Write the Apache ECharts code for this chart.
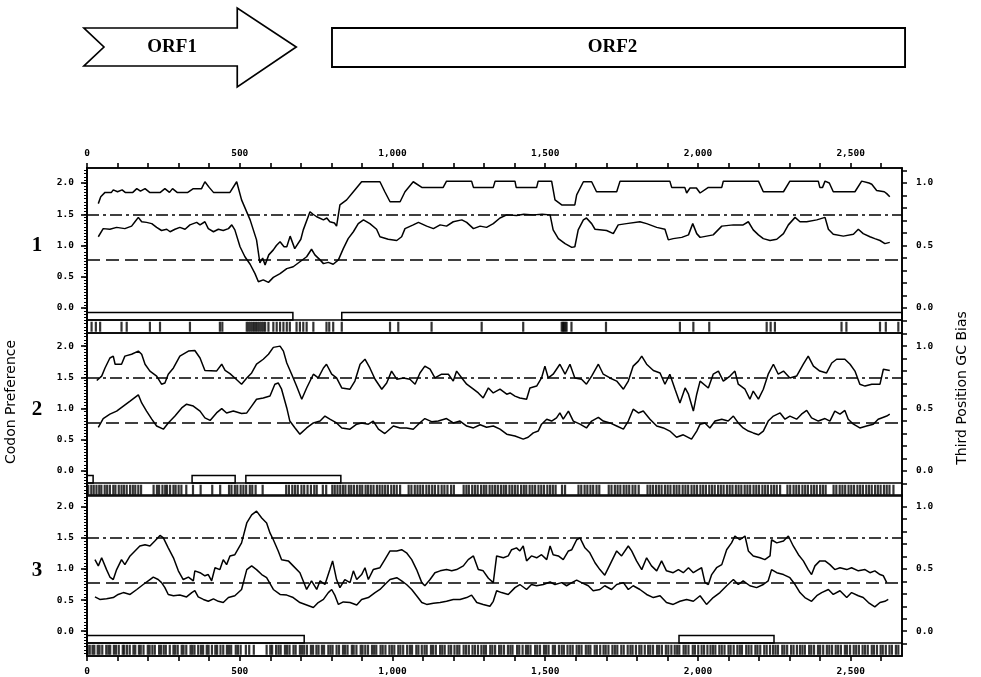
<!DOCTYPE html>
<html>
<head>
<meta charset="utf-8">
<script src="https://cdn.jsdelivr.net/npm/echarts@6/dist/echarts.min.js"></script>
<style>
  html, body { margin: 0; padding: 0; background: #fff; }
  #codonChart { width: 981px; height: 677px; }
</style>
</head>
<body>
<div id="codonChart"></div>
<script>
// sequence position axis (nt)
const xTicks = [0,100,200,300,400,500,600,700,800,900,1000,1100,1200,1300,1400,1500,1600,1700,1800,1900,2000,2100,2200,2300,2400,2500,2600];
const xLabels = [0,500,1000,1500,2000,2500];
const leftLabels = [0,0.5,1,1.5,2];
const rightLabels = [0,0.5,1];
const rightTicks = [-0.1,0,0.1,0.2,0.3,0.4,0.5,0.6,0.7,0.8,0.9,1.0,1.1];
const dashLevel = 0.78;
const dashDotLevel = 1.5;

// ORF map at the top
const orfArrow = [-10, 685];
const orfBox = [802, 2678];

// open reading frames per frame
const orfs1 = [[0, 674], [834, 2668]];
const orfs2 = [[0, 20], [344, 485], [520, 831]];
const orfs3 = [[0, 711], [1938, 2249]];

// frame 1 traces (codon preference units)
const upper1 = [[37,1.67],[45,1.78],[59,1.85],[80,1.85],[86,1.89],[100,1.86],[115,1.89],[125,1.85],[150,1.85],[163,1.91],[175,1.87],[190,1.91],[205,1.85],[240,1.85],[255,1.91],[270,1.85],[280,1.91],[295,1.85],[330,1.85],[348,1.91],[375,1.91],[386,2.02],[400,1.93],[414,1.85],[468,1.85],[490,2.02],[506,1.73],[534,1.41],[555,1.09],[566,0.72],[575,0.80],[583,0.69],[595,0.85],[610,0.93],[620,1.00],[632,1.06],[645,0.98],[654,0.98],[665,1.15],[670,1.18],[680,0.95],[686,0.93],[700,1.10],[708,1.25],[730,1.54],[740,1.50],[752,1.46],[774,1.41],[785,1.44],[795,1.38],[810,1.36],[817,1.31],[828,1.65],[850,1.73],[872,1.86],[899,2.02],[959,2.02],[975,1.86],[992,1.70],[1025,1.70],[1041,1.86],[1068,2.02],[1096,1.93],[1166,1.93],[1177,2.03],[1259,2.03],[1265,1.93],[1330,1.93],[1336,2.03],[1401,2.03],[1405,1.93],[1472,1.93],[1477,2.03],[1521,2.03],[1532,1.73],[1554,1.65],[1597,1.65],[1603,1.81],[1625,2.02],[1652,2.02],[1668,1.86],[1734,1.86],[1745,2.03],[1908,2.03],[1914,1.93],[1957,1.93],[1963,1.84],[1974,1.92],[1995,1.92],[2007,1.84],[2034,1.93],[2078,1.93],[2083,2.03],[2198,2.03],[2214,1.86],[2280,1.86],[2301,2.03],[2394,2.03],[2399,1.93],[2408,1.93],[2416,2.03],[2430,2.00],[2443,1.86],[2514,1.86],[2536,2.03],[2560,2.00],[2569,1.98],[2585,1.88],[2610,1.86],[2618,1.83],[2628,1.78]];
const lower1 = [[37,1.14],[53,1.27],[75,1.26],[97,1.29],[124,1.27],[146,1.31],[157,1.38],[168,1.45],[179,1.38],[195,1.37],[212,1.35],[228,1.29],[244,1.24],[261,1.26],[272,1.22],[288,1.26],[304,1.29],[321,1.26],[337,1.33],[359,1.37],[370,1.33],[386,1.38],[397,1.27],[414,1.22],[430,1.26],[446,1.24],[463,1.27],[474,1.33],[484,1.25],[501,0.98],[517,0.82],[534,0.70],[550,0.55],[561,0.42],[577,0.45],[594,0.41],[610,0.49],[632,0.55],[654,0.63],[675,0.66],[697,0.74],[719,0.82],[735,0.94],[746,0.85],[763,0.77],[774,0.71],[790,0.73],[806,0.70],[823,0.77],[839,0.95],[855,1.11],[872,1.22],[888,1.35],[905,1.41],[926,1.35],[948,1.26],[959,1.14],[986,1.10],[1014,1.08],[1030,1.14],[1041,1.27],[1068,1.33],[1085,1.37],[1112,1.31],[1134,1.27],[1156,1.33],[1177,1.31],[1199,1.38],[1227,1.41],[1243,1.37],[1265,1.27],[1287,1.31],[1308,1.29],[1330,1.35],[1352,1.44],[1374,1.49],[1406,1.48],[1430,1.50],[1461,1.49],[1490,1.50],[1516,1.49],[1526,1.25],[1543,1.11],[1565,1.03],[1587,0.97],[1597,0.98],[1608,1.25],[1625,1.41],[1635,1.44],[1652,1.35],[1663,1.26],[1701,1.24],[1723,1.19],[1739,1.33],[1766,1.35],[1810,1.38],[1832,1.35],[1865,1.29],[1892,1.26],[1903,1.09],[1919,1.11],[1947,1.13],[1969,1.17],[1983,1.35],[1996,1.19],[2007,1.13],[2050,1.17],[2078,1.31],[2116,1.33],[2148,1.33],[2165,1.38],[2181,1.25],[2198,1.17],[2214,1.11],[2236,1.08],[2258,1.10],[2280,1.19],[2296,1.33],[2318,1.45],[2334,1.38],[2356,1.38],[2389,1.41],[2416,1.45],[2427,1.26],[2443,1.18],[2476,1.15],[2509,1.18],[2525,1.26],[2541,1.19],[2563,1.14],[2579,1.11],[2596,1.08],[2612,1.03],[2628,1.05]];

// frame 2 traces
const upper2 = [[32,1.45],[48,1.52],[59,1.65],[75,1.81],[86,1.84],[92,1.71],[113,1.71],[124,1.84],[146,1.87],[168,1.92],[179,1.87],[190,1.71],[206,1.60],[228,1.52],[244,1.39],[255,1.41],[266,1.55],[283,1.65],[304,1.84],[332,1.92],[353,1.93],[370,1.81],[386,1.61],[424,1.60],[441,1.71],[452,1.61],[468,1.56],[484,1.49],[506,1.39],[523,1.49],[539,1.57],[555,1.71],[577,1.79],[594,1.87],[610,1.98],[632,2.00],[643,1.92],[654,1.73],[670,1.55],[686,1.36],[703,1.15],[719,1.33],[741,1.55],[757,1.49],[774,1.65],[784,1.71],[801,1.55],[817,1.49],[834,1.33],[861,1.31],[877,1.44],[894,1.71],[910,1.79],[926,1.65],[943,1.47],[965,1.31],[981,1.41],[997,1.60],[1014,1.47],[1036,1.49],[1057,1.47],[1074,1.39],[1090,1.57],[1106,1.68],[1123,1.63],[1139,1.49],[1161,1.55],[1183,1.55],[1199,1.44],[1210,1.60],[1227,1.49],[1243,1.39],[1265,1.31],[1281,1.25],[1297,1.17],[1314,1.33],[1330,1.25],[1352,1.31],[1374,1.23],[1385,1.25],[1401,1.20],[1417,1.17],[1439,1.15],[1450,1.33],[1472,1.36],[1488,1.49],[1499,1.68],[1510,1.49],[1526,1.55],[1548,1.71],[1565,1.55],[1581,1.71],[1597,1.49],[1619,1.47],[1635,1.39],[1652,1.52],[1674,1.71],[1690,1.55],[1712,1.49],[1734,1.44],[1756,1.31],[1772,1.44],[1788,1.68],[1805,1.76],[1816,1.84],[1832,1.71],[1854,1.61],[1876,1.57],[1892,1.39],[1908,1.55],[1925,1.31],[1941,1.09],[1958,1.33],[1969,1.23],[1985,0.96],[1996,1.23],[2007,1.44],[2034,1.33],[2050,1.55],[2067,1.60],[2083,1.44],[2105,1.52],[2121,1.60],[2132,1.39],[2154,1.31],[2170,1.15],[2181,1.28],[2198,1.15],[2214,1.31],[2230,1.55],[2247,1.71],[2263,1.55],[2280,1.60],[2301,1.49],[2323,1.52],[2345,1.71],[2361,1.84],[2378,1.68],[2399,1.60],[2421,1.57],[2438,1.73],[2454,1.79],[2481,1.79],[2498,1.71],[2514,1.60],[2530,1.39],[2547,1.36],[2569,1.39],[2596,1.39],[2607,1.63],[2628,1.61]];
const lower2 = [[37,0.70],[53,0.84],[75,0.91],[97,0.96],[119,1.04],[141,1.12],[168,1.22],[179,1.09],[195,0.96],[212,0.83],[228,0.72],[250,0.67],[266,0.77],[288,0.88],[310,1.01],[326,1.07],[348,1.04],[370,0.96],[386,0.85],[403,0.81],[424,0.93],[441,1.00],[457,0.93],[479,0.96],[506,0.92],[523,0.93],[539,1.04],[555,1.15],[577,1.17],[599,1.20],[615,1.39],[626,1.41],[637,1.31],[654,1.01],[664,0.80],[681,0.69],[697,0.59],[719,0.69],[741,0.77],[763,0.80],[779,0.88],[795,0.83],[817,0.77],[834,0.69],[861,0.67],[883,0.75],[899,0.77],[921,0.75],[937,0.80],[954,0.67],[975,0.60],[1003,0.72],[1025,0.69],[1046,0.69],[1068,0.67],[1085,0.75],[1106,0.84],[1128,0.79],[1150,0.80],[1177,0.84],[1199,0.77],[1221,0.80],[1243,0.72],[1265,0.69],[1287,0.74],[1308,0.70],[1330,0.72],[1352,0.67],[1374,0.59],[1401,0.56],[1428,0.51],[1444,0.54],[1461,0.61],[1477,0.64],[1488,0.75],[1505,0.83],[1521,0.80],[1537,0.85],[1548,0.93],[1559,0.83],[1576,0.96],[1592,0.80],[1614,0.75],[1635,0.69],[1652,0.80],[1674,0.86],[1690,0.80],[1712,0.77],[1734,0.72],[1756,0.67],[1772,0.80],[1788,0.99],[1805,0.93],[1821,0.96],[1843,0.83],[1865,0.72],[1887,0.69],[1908,0.64],[1930,0.54],[1952,0.58],[1979,0.51],[1996,0.64],[2007,0.75],[2023,0.77],[2039,0.69],[2056,0.80],[2078,0.83],[2099,0.80],[2116,0.88],[2132,0.77],[2148,0.69],[2165,0.64],[2181,0.61],[2198,0.58],[2214,0.64],[2230,0.80],[2247,0.88],[2269,0.93],[2285,0.83],[2301,0.88],[2323,0.83],[2339,0.91],[2356,0.97],[2372,0.85],[2394,0.80],[2416,0.84],[2432,0.80],[2448,0.96],[2465,0.91],[2481,0.97],[2492,0.83],[2509,0.75],[2530,0.69],[2552,0.72],[2574,0.75],[2590,0.83],[2601,0.85],[2618,0.88],[2628,0.91]];

// frame 3 traces
const upper3 = [[26,1.15],[37,1.05],[48,1.18],[64,0.99],[75,0.87],[86,0.83],[97,0.99],[113,1.15],[124,1.07],[141,1.21],[157,1.29],[173,1.37],[190,1.39],[206,1.37],[222,1.45],[239,1.54],[250,1.50],[266,1.34],[283,1.18],[299,0.97],[315,0.83],[332,0.87],[348,0.81],[353,0.97],[370,0.94],[386,0.89],[397,0.91],[408,0.81],[419,1.02],[435,0.99],[446,1.15],[457,1.07],[468,1.21],[484,1.23],[506,1.42],[523,1.74],[539,1.87],[555,1.93],[572,1.82],[588,1.74],[599,1.58],[610,1.47],[626,1.29],[637,1.15],[659,1.13],[675,1.05],[697,0.94],[719,0.67],[735,0.81],[752,0.67],[763,0.81],[779,0.75],[795,0.99],[804,1.13],[817,0.83],[828,0.70],[844,0.83],[861,0.78],[872,0.97],[883,0.83],[899,0.91],[910,1.02],[921,0.83],[937,0.99],[959,1.02],[975,1.15],[992,1.29],[1014,1.29],[1030,1.31],[1046,1.26],[1063,1.15],[1079,0.99],[1096,0.78],[1106,0.73],[1123,0.83],[1139,0.94],[1156,0.97],[1177,0.99],[1194,0.97],[1210,0.99],[1232,1.05],[1248,1.15],[1265,1.21],[1281,0.99],[1297,0.97],[1314,0.85],[1330,0.78],[1341,1.21],[1363,1.18],[1379,1.21],[1390,1.31],[1406,1.34],[1417,1.29],[1428,1.37],[1439,1.13],[1455,1.21],[1472,1.18],[1488,1.23],[1505,1.15],[1516,1.37],[1526,1.23],[1543,1.21],[1559,1.15],[1576,1.29],[1587,1.31],[1603,1.47],[1614,1.50],[1630,1.34],[1646,1.26],[1663,1.10],[1679,0.99],[1695,0.90],[1712,1.07],[1734,1.29],[1750,1.21],[1772,1.37],[1783,1.29],[1799,1.13],[1816,0.99],[1832,1.18],[1848,1.05],[1865,0.97],[1881,1.13],[1897,0.97],[1919,0.94],[1936,0.99],[1952,0.94],[1969,1.02],[1985,0.94],[2001,0.99],[2012,1.02],[2023,0.78],[2034,0.75],[2045,0.91],[2061,1.02],[2078,1.07],[2094,1.31],[2110,1.42],[2121,1.53],[2137,1.47],[2154,1.53],[2165,1.29],[2181,1.21],[2203,1.18],[2219,1.15],[2236,1.21],[2241,1.47],[2258,1.42],[2280,1.45],[2296,1.53],[2312,1.37],[2329,1.23],[2345,1.13],[2361,0.99],[2372,0.91],[2383,1.05],[2399,1.13],[2416,1.13],[2432,1.07],[2448,0.99],[2465,1.02],[2487,0.99],[2503,1.02],[2525,0.97],[2547,0.99],[2563,0.94],[2579,0.97],[2596,0.91],[2607,0.89],[2618,0.78]];
const lower3 = [[26,0.55],[42,0.51],[64,0.52],[86,0.54],[102,0.59],[119,0.62],[141,0.59],[163,0.67],[184,0.75],[206,0.83],[217,0.87],[233,0.83],[244,0.78],[255,0.70],[266,0.59],[283,0.57],[304,0.58],[326,0.55],[343,0.62],[353,0.65],[364,0.55],[381,0.51],[397,0.48],[414,0.52],[430,0.48],[446,0.46],[463,0.54],[484,0.57],[506,0.67],[523,0.99],[539,1.05],[555,0.99],[572,0.91],[588,0.86],[610,0.67],[632,0.59],[654,0.58],[675,0.54],[697,0.46],[719,0.42],[741,0.38],[757,0.46],[774,0.51],[790,0.62],[801,0.67],[812,0.57],[823,0.43],[839,0.47],[861,0.46],[883,0.42],[899,0.51],[921,0.54],[943,0.62],[959,0.67],[975,0.75],[992,0.83],[1014,0.86],[1030,0.81],[1046,0.75],[1063,0.67],[1079,0.57],[1096,0.46],[1112,0.43],[1134,0.45],[1156,0.46],[1177,0.48],[1199,0.51],[1221,0.51],[1243,0.54],[1259,0.58],[1276,0.46],[1297,0.43],[1319,0.40],[1330,0.48],[1341,0.65],[1357,0.62],[1379,0.59],[1401,0.70],[1417,0.75],[1439,0.67],[1455,0.75],[1472,0.73],[1494,0.75],[1516,0.79],[1532,0.75],[1554,0.78],[1570,0.73],[1587,0.78],[1603,0.82],[1619,0.78],[1641,0.73],[1657,0.65],[1679,0.67],[1695,0.73],[1717,0.67],[1734,0.75],[1756,0.78],[1772,0.67],[1788,0.73],[1810,0.67],[1832,0.59],[1854,0.54],[1876,0.57],[1897,0.46],[1919,0.43],[1941,0.48],[1963,0.51],[1985,0.48],[2007,0.57],[2028,0.43],[2050,0.54],[2072,0.62],[2094,0.73],[2116,0.83],[2132,0.75],[2148,0.81],[2170,0.73],[2192,0.70],[2214,0.75],[2230,0.81],[2241,0.99],[2258,0.94],[2280,0.91],[2301,0.86],[2318,0.75],[2334,0.62],[2350,0.54],[2372,0.48],[2389,0.57],[2405,0.62],[2427,0.67],[2443,0.59],[2465,0.65],[2487,0.54],[2503,0.62],[2525,0.57],[2541,0.54],[2558,0.46],[2579,0.39],[2596,0.46],[2612,0.48],[2623,0.51]];

// rare codon positions per frame
const rare1 = [15,29,43,113,130,206,239,337,435,443,523,529,535,541,547,553,559,565,571,577,583,594,610,621,632,643,654,664,686,697,708,719,741,784,793,806,834,992,1019,1128,1292,1428,1554,1558,1562,1566,1570,1586,1699,1941,1985,2037,2225,2238,2252,2470,2486,2596,2615,2656];
const rare2 = [4,14,22,31,40,47,58,66,75,86,93,104,113,121,130,141,150,158,168,177,218,229,236,247,256,262,272,283,290,300,309,325,347,372,410,436,465,473,484,492,503,512,521,533,541,552,575,652,661,672,681,690,702,711,722,733,744,752,772,783,803,811,820,829,838,846,857,865,874,884,893,901,912,920,929,938,949,958,967,976,985,996,1005,1014,1025,1053,1062,1073,1082,1091,1100,1111,1120,1130,1139,1150,1161,1170,1180,1192,1201,1233,1242,1250,1261,1270,1279,1290,1299,1307,1318,1327,1336,1345,1355,1364,1372,1383,1392,1401,1410,1421,1430,1438,1449,1458,1467,1478,1487,1496,1507,1516,1525,1534,1555,1565,1609,1618,1629,1638,1648,1657,1668,1677,1708,1717,1728,1737,1746,1757,1766,1775,1786,1795,1806,1835,1844,1853,1863,1872,1881,1892,1901,1910,1921,1930,1939,1950,1959,1968,1979,1988,1997,2008,2017,2026,2037,2046,2055,2066,2075,2084,2095,2104,2113,2124,2133,2142,2153,2162,2171,2182,2191,2200,2211,2220,2229,2240,2249,2258,2269,2293,2302,2313,2322,2331,2342,2351,2360,2371,2380,2389,2400,2409,2418,2444,2453,2464,2473,2482,2493,2502,2511,2522,2531,2540,2551,2560,2569,2580,2589,2598,2609,2618,2627,2640];
const rare3 = [2,9,18,24,35,41,50,63,70,76,88,95,104,117,122,131,140,152,158,170,176,185,199,205,214,222,236,242,251,258,271,283,289,297,310,316,325,339,345,352,364,373,380,392,398,409,420,426,437,446,458,465,472,487,494,503,520,531,546,588,600,606,619,627,634,648,655,663,676,683,697,704,711,720,733,740,751,758,769,776,790,797,804,817,825,838,845,853,867,873,882,896,902,911,920,933,940,947,961,968,977,990,998,1006,1019,1026,1035,1048,1057,1064,1078,1085,1096,1105,1112,1126,1133,1142,1156,1163,1171,1184,1192,1203,1212,1219,1233,1241,1250,1262,1270,1280,1291,1299,1306,1320,1327,1336,1349,1356,1365,1378,1386,1393,1408,1415,1426,1437,1444,1452,1467,1474,1483,1496,1503,1511,1525,1532,1545,1554,1561,1573,1582,1590,1603,1611,1619,1633,1641,1648,1662,1669,1680,1691,1698,1707,1720,1728,1736,1749,1757,1770,1779,1786,1797,1808,1815,1826,1837,1844,1853,1866,1873,1882,1895,1903,1913,1924,1932,1939,1953,1960,1969,1983,1990,2001,2012,2020,2031,2041,2049,2057,2070,2078,2087,2100,2107,2117,2129,2137,2144,2158,2166,2175,2188,2195,2204,2217,2225,2236,2246,2254,2262,2276,2283,2292,2305,2313,2324,2334,2342,2350,2364,2371,2380,2393,2400,2410,2422,2430,2439,2451,2459,2468,2481,2488,2498,2510,2518,2527,2539,2547,2556,2569,2576,2586,2598,2605,2615,2627,2635,2648,2656];

const panels = [
  { upper: upper1, lower: lower1, orfs: orfs1, rare: rare1, top: 168, height: 165, max: 2.24 },
  { upper: upper2, lower: lower2, orfs: orfs2, rare: rare2, top: 333, height: 163, max: 2.21 },
  { upper: upper3, lower: lower3, orfs: orfs3, rare: rare3, top: 495, height: 162, max: 2.19 }
];
const yMin = -0.40;
const xMax = 2668;

// short ticks along the left axis
const minorTicks = [];
for (let v = -35; v <= 220; v += 5) minorTicks.push(v / 100);

const ink = '#000';
const tickFont = { fontFamily: 'DejaVu Sans Mono', fontWeight: 'bold', fontSize: 9.5, color: ink };
const fmtNt = v => v.toLocaleString('en-US');

let grids = [], xAxes = [], yAxes = [], series = [];

panels.forEach((p, i) => {
  grids.push({ left: 87, right: 79, top: p.top, height: p.height, show: true, borderColor: ink, borderWidth: 1.6, backgroundColor: 'transparent' });

  xAxes.push({
    type: 'value', gridIndex: i, min: 0, max: xMax,
    show: i !== 1,
    position: i === 0 ? 'top' : 'bottom',
    axisLine: { onZero: false, lineStyle: { color: ink, width: 1.6 } },
    axisTick: { customValues: xTicks, length: 5, lineStyle: { color: ink, width: 1.6 } },
    axisLabel: Object.assign({ customValues: xLabels, formatter: fmtNt, margin: i === 0 ? 9 : 11 }, tickFont),
    splitLine: { show: false }
  });

  // left: codon preference
  yAxes.push({
    type: 'value', gridIndex: i, position: 'left', min: yMin, max: p.max,
    axisLine: { show: true, onZero: false, lineStyle: { color: ink, width: 2 } },
    axisTick: { customValues: leftLabels, length: 6, lineStyle: { color: ink, width: 1.6 } },
    axisLabel: Object.assign({ customValues: leftLabels, formatter: v => v.toFixed(1), margin: 13 }, tickFont),
    splitLine: { show: false }
  });
  yAxes.push({
    type: 'value', gridIndex: i, position: 'left', offset: 0, min: yMin, max: p.max,
    axisLine: { show: false, onZero: false },
    axisTick: { customValues: minorTicks, length: 3, lineStyle: { color: ink, width: 1 } },
    axisLabel: { show: false },
    splitLine: { show: false }
  });
  // right: third position GC bias
  yAxes.push({
    type: 'value', gridIndex: i, position: 'right', min: yMin / 2, max: p.max / 2,
    axisLine: { show: true, onZero: false, lineStyle: { color: ink, width: 1.6 } },
    axisTick: { customValues: rightTicks, length: 5, lineStyle: { color: ink, width: 1.5 } },
    axisLabel: Object.assign({ customValues: rightLabels, formatter: v => v.toFixed(1), margin: 14 }, tickFont),
    splitLine: { show: false }
  });

  const yi = i * 3;
  series.push({
    type: 'line', xAxisIndex: i, yAxisIndex: yi, data: p.upper,
    showSymbol: false, lineStyle: { color: ink, width: 1.5 }, z: 5,
    markLine: {
      silent: true, symbol: ['none', 'none'], label: { show: false },
      lineStyle: { color: ink, width: 1.5, type: [12, 4, 3, 4] },
      data: [{ yAxis: dashDotLevel }]
    }
  });
  series.push({
    type: 'line', xAxisIndex: i, yAxisIndex: yi, data: p.lower,
    showSymbol: false, lineStyle: { color: ink, width: 1.5 }, z: 5,
    markLine: {
      silent: true, symbol: ['none', 'none'], label: { show: false },
      lineStyle: { color: ink, width: 1.5, type: [13, 6] },
      data: [{ yAxis: dashLevel }]
    }
  });
  series.push({
    type: 'custom', xAxisIndex: i, yAxisIndex: yi, data: p.orfs,
    encode: { x: [0, 1] },
    renderItem: (params, api) => {
      const a = api.coord([api.value(0), -0.07]);
      const b = api.coord([api.value(1), -0.19]);
      return { type: 'rect', shape: { x: a[0], y: a[1], width: b[0] - a[0], height: b[1] - a[1] },
        style: { fill: 'none', stroke: ink, lineWidth: 1.5 } };
    }
  });
  series.push({
    type: 'scatter', xAxisIndex: i, yAxisIndex: yi,
    data: p.rare.map(x => [x, -0.30]),
    symbol: 'rect', symbolSize: [2.2, 10], itemStyle: { color: ink },
    markLine: {
      silent: true, symbol: ['none', 'none'], label: { show: false },
      lineStyle: { color: ink, width: 1.5, type: 'solid' },
      data: [{ yAxis: -0.19 }]
    }
  });
});

const chart = echarts.init(document.getElementById('codonChart'), null, { renderer: 'canvas' });
chart.setOption({
  animation: false,
  backgroundColor: '#fff',
  grid: grids,
  xAxis: xAxes,
  yAxis: yAxes,
  series: series
});

// ORF map and labels
const px = v => chart.convertToPixel({ xAxisIndex: 0 }, v);
const a0 = px(orfArrow[0]), a1 = px(orfArrow[1]);
const headBase = a1 - 59;
const b0 = px(orfBox[0]), b1 = px(orfBox[1]);
const orfFont = 'bold 19px "Liberation Serif"';
const numFont = 'bold 21px "Liberation Serif"';
const titleFont = '14px "DejaVu Sans"';

chart.setOption({
  graphic: [
    { type: 'polygon', shape: { points: [[a0, 28], [headBase, 28], [headBase, 8], [a1, 47], [headBase, 87], [headBase, 66], [a0, 66], [a0 + 20, 47]] },
      style: { fill: '#fff', stroke: ink, lineWidth: 1.7 } },
    { type: 'text', x: (a0 + a1) / 2 - 18, y: 47, style: { text: 'ORF1', font: orfFont, fill: ink, align: 'center', verticalAlign: 'middle' } },
    { type: 'rect', shape: { x: b0, y: 28, width: b1 - b0, height: 39 }, style: { fill: '#fff', stroke: ink, lineWidth: 1.9 } },
    { type: 'text', x: (b0 + b1) / 2 - 6, y: 47, style: { text: 'ORF2', font: orfFont, fill: ink, align: 'center', verticalAlign: 'middle' } },
    { type: 'text', x: 37, y: 246, style: { text: '1', font: numFont, fill: ink, align: 'center', verticalAlign: 'middle' } },
    { type: 'text', x: 37, y: 410, style: { text: '2', font: numFont, fill: ink, align: 'center', verticalAlign: 'middle' } },
    { type: 'text', x: 37, y: 571, style: { text: '3', font: numFont, fill: ink, align: 'center', verticalAlign: 'middle' } },
    { type: 'text', x: 11, y: 402, rotation: Math.PI / 2, style: { text: 'Codon Preference', font: titleFont, fill: ink, align: 'center', verticalAlign: 'middle' } },
    { type: 'text', x: 962, y: 388, rotation: Math.PI / 2, style: { text: 'Third Position GC Bias', font: titleFont, fill: ink, align: 'center', verticalAlign: 'middle' } }
  ]
});
</script>
</body>
</html>
